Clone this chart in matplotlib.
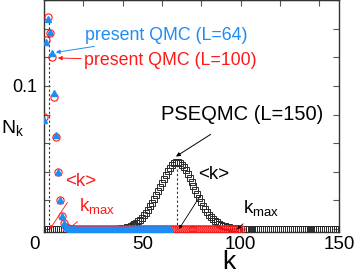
import matplotlib
matplotlib.use("Agg")
import matplotlib.pyplot as plt
import matplotlib.transforms as mtransforms
import numpy as np

plt.rcParams['font.family'] = ['Liberation Sans', 'DejaVu Sans']
plt.rcParams['mathtext.fontset'] = 'custom'
plt.rcParams['mathtext.rm'] = 'Liberation Sans'
plt.rcParams['mathtext.it'] = 'Liberation Sans'

# ---- data ----
qmc64_head = [0.076, 0.131, 0.147, 0.138, 0.123, 0.095, 0.066, 0.040, 0.020,
              0.009, 0.004, 0.0015, 0.0005]
qmc64 = qmc64_head + [0.0] * (65 - len(qmc64_head))          # k = 0..64

qmc100_head = [0.078, 0.132, 0.148, 0.137, 0.120, 0.092, 0.064, 0.040, 0.020,
               0.009, 0.004, 0.0015, 0.0005]
qmc100 = qmc100_head + [0.0] * (101 - len(qmc100_head))      # k = 0..100

pse_mid = [0.0001, 0.0002, 0.0003, 0.0004, 0.0006,            # k = 35..39
           0.0008, 0.0010, 0.0013, 0.0017, 0.0022, 0.0028, 0.0035, 0.0044, 0.0054, 0.0066,
           0.0080, 0.0096, 0.0114, 0.0134, 0.0160, 0.0185, 0.0212, 0.0240, 0.0268, 0.0296,
           0.0323, 0.0350, 0.0378, 0.0404, 0.0428, 0.0448, 0.0462, 0.0470, 0.0470, 0.0462,
           0.0450, 0.0432, 0.0410, 0.0385, 0.0358, 0.0330, 0.0300, 0.0272, 0.0243, 0.0215,
           0.0189, 0.0164, 0.0141, 0.0120, 0.0101, 0.0085, 0.0071, 0.0059, 0.0048, 0.0039,
           0.0032, 0.0025, 0.0020, 0.0016, 0.0012, 0.0009, 0.0007, 0.0005, 0.0004, 0.0003,
           0.0002]                                              # k = 40..100
pse150 = [0.0] * 35 + pse_mid
pse150 = pse150 + [0.0] * (151 - len(pse150))                 # k = 0..150

mean_k_qmc = 2.7
mean_k_qmc_height = 0.148
mean_k_pse = 67.5
mean_k_pse_height = 0.047

xticks = [0, 50, 100, 150]
xticks_top = [20, 40, 60, 80, 100, 120, 140]
yticks = [0, 0.02, 0.04, 0.06, 0.08, 0.1, 0.12, 0.14, 0.16]
ytick_labels = ['', '', '', '', '', '0.1', '', '', '']

blue = '#1e8cf5'
red = '#ff1a1a'

fig = plt.figure(figsize=(3.54, 2.73), dpi=100)
ax = fig.add_axes([44/354, 1 - 232/273, 295/354, 232/273])

k150 = np.arange(len(pse150))
k100 = np.arange(len(qmc100))
k64 = np.arange(len(qmc64))

ax.plot(k150, pse150, linestyle='none', marker='s', ms=5, mfc='none',
        mec='#2a2a2a', mew=0.7, zorder=2)
ax.plot(k100, qmc100, linestyle='none', marker='o', ms=5.2, mfc='none',
        mec=red, mew=0.8, zorder=3)
ax.plot(k64, qmc64, linestyle='none', marker='^', ms=5, color=blue,
        mec=blue, zorder=4)

ax.plot([mean_k_qmc, mean_k_qmc], [0, mean_k_qmc_height], ls=(0, (2, 2)),
        color='#333333', lw=0.8, zorder=1)
ax.plot([mean_k_pse, mean_k_pse], [0, mean_k_pse_height], ls=(0, (2, 2)),
        color='#333333', lw=0.8, zorder=1)

ax.set_xlim(0, 150)
ax.set_ylim(-0.002, 0.16)
ax.set_xticks(xticks)
ax.set_xticklabels([str(t) for t in xticks])
ax.set_yticks(yticks)
ax.set_yticklabels(ytick_labels)
ax.tick_params(direction='in', length=4, width=0.8, color='#555555',
               right=True)
ax.tick_params(axis='x', labelsize=13.5, pad=3)
ax.tick_params(axis='y', labelsize=13, pad=5)
for s in ax.spines.values():
    s.set_color('#333333')
    s.set_linewidth(1.0)
# first x label sits a little left of the axis corner
lbl0 = ax.get_xticklabels()[0]
lbl0.set_transform(lbl0.get_transform() +
                   mtransforms.ScaledTranslation(-7/72, 0, fig.dpi_scale_trans))

sec = ax.secondary_xaxis('top')
sec.set_xticks(xticks_top)
sec.set_xticklabels([])
sec.tick_params(direction='in', length=4, width=0.8, color='#555555')

ax.set_xlabel('k', fontsize=19)
ax.xaxis.label.set_va('center')
ax.xaxis.set_label_coords(0.625, -0.13)
ax.set_ylabel(r'N$_\mathrm{k}$', fontsize=14, rotation=0, ha='left', va='center')
ax.yaxis.set_label_coords(-0.146, 0.45)

def arw(c, sa=0, lw=0.7, ms=6):
    return dict(arrowstyle='-|>', color=c, lw=lw, mutation_scale=ms,
                shrinkA=sa, shrinkB=0)

ax.annotate('present QMC (L=64)', xy=(6.0, 0.1234), xytext=(21.0, 0.1355),
            color=blue, fontsize=12.8, va='center', ha='left',
            arrowprops=arw(blue))
ax.annotate('present QMC (L=100)', xy=(7.0, 0.1195), xytext=(20.3, 0.1175),
            color=red, fontsize=12.8, va='center', ha='left',
            arrowprops=arw(red))
ax.annotate('PSEQMC (L=150)', xy=(67.1, 0.0507), xytext=(100.5, 0.0800),
            color='black', fontsize=14.5, va='center', ha='center',
            arrowprops=arw('black', sa=10))
ax.annotate('<k>', xy=(3.0, 0.0), xytext=(18.8, 0.0330),
            color=red, fontsize=13.5, va='center', ha='center',
            arrowprops=arw(red, sa=8, lw=0.6, ms=5))
ax.annotate(r'k$_\mathrm{max}$', xy=(12.2, 0.0), xytext=(17.8, 0.0160),
            color=red, fontsize=13.5, va='center', ha='left',
            arrowprops=arw(red, sa=3, lw=0.6, ms=5))
ax.annotate('<k>', xy=(68.6, 0.0), xytext=(86.3, 0.0380),
            color='black', fontsize=13.5, va='center', ha='center',
            arrowprops=arw('black', sa=8, lw=0.6, ms=5))
ax.annotate(r'k$_\mathrm{max}$', xy=(98.1, 0.0), xytext=(101.2, 0.0145),
            color='black', fontsize=13.5, va='center', ha='left',
            arrowprops=arw('black', sa=3, lw=0.6, ms=5))

fig.savefig('out.png', dpi=100)
